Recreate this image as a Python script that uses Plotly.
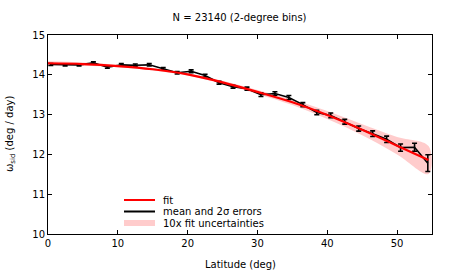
import plotly.graph_objects as go

# Binned means (latitude, deg / day) and 2-sigma errors
lat = [0.4, 2.45, 4.45, 6.5, 8.5, 10.5, 12.5, 14.5, 16.5, 18.5, 20.5, 22.5, 24.5, 26.5,
       28.5, 30.5, 32.5, 34.5, 36.5, 38.5, 40.5, 42.5, 44.5, 46.5, 48.5, 50.5, 52.5, 54.4]
omega = [14.26, 14.25, 14.25, 14.30, 14.19, 14.25, 14.24, 14.25, 14.15, 14.05, 14.09, 13.98,
         13.80, 13.70, 13.65, 13.50, 13.53, 13.43, 13.25, 13.05, 12.98, 12.82, 12.65, 12.52,
         12.38, 12.17, 12.18, 11.78]
err2s = [0.025, 0.025, 0.025, 0.025, 0.025, 0.03, 0.03, 0.03, 0.03, 0.03, 0.035, 0.035,
         0.035, 0.035, 0.04, 0.045, 0.045, 0.05, 0.05, 0.055, 0.06, 0.06, 0.065, 0.07,
         0.08, 0.09, 0.10, 0.21]

# Fit curve, read at sample latitudes
fit_lat = [0, 5, 10, 15, 20, 25, 30, 35, 40, 45, 50, 54.5]
fit_val = [14.29, 14.27, 14.22, 14.14, 14.01, 13.81, 13.57, 13.31, 12.99, 12.62, 12.22, 11.86]
fit_unc10 = [0.05, 0.04, 0.03, 0.03, 0.03, 0.04, 0.05, 0.07, 0.10, 0.14, 0.22, 0.35]

legend_labels = ["fit", "mean and 2σ errors", "10x fit uncertainties"]

font = "DejaVu Sans"
FS = 10
W, H = 452, 271
L, R, T, B = 48, 20, 35, 37
pw, ph = W - L - R, H - T - B


def px(xp):
    return (xp - L) / pw


def py(yp):
    return (H - B - yp) / ph


band_x = fit_lat + fit_lat[::-1]
band_y = [v + u for v, u in zip(fit_val, fit_unc10)] + \
         [v - u for v, u in zip(fit_val[::-1], fit_unc10[::-1])]

fig = go.Figure()
fig.add_trace(go.Scatter(x=band_x, y=band_y, fill="toself", mode="lines",
                         line=dict(width=0, color="rgba(255,0,0,0)", shape="spline"),
                         fillcolor="rgba(255,0,0,0.2)", name=legend_labels[2],
                         hoverinfo="skip"))
fig.add_trace(go.Scatter(x=lat, y=omega, mode="lines", name=legend_labels[1],
                         line=dict(color="black", width=1.6),
                         error_y=dict(type="data", array=err2s, visible=True,
                                      color="black", thickness=1.6, width=2.5)))
fig.add_trace(go.Scatter(x=fit_lat, y=fit_val, mode="lines", name=legend_labels[0],
                         line=dict(color="red", width=2.2, shape="spline")))

axis_common = dict(showgrid=False, zeroline=False, showline=True, linecolor="black",
                   linewidth=1, mirror="allticks", ticks="inside", ticklen=4,
                   tickcolor="black", automargin=False,
                   tickfont=dict(family=font, size=FS, color="black"))

# Manual legend
rows = [200, 211.5, 223]
shapes = [
    dict(type="line", xref="paper", yref="paper", x0=px(124), x1=px(155),
         y0=py(rows[0]), y1=py(rows[0]), line=dict(color="red", width=2)),
    dict(type="line", xref="paper", yref="paper", x0=px(124), x1=px(155),
         y0=py(rows[1]), y1=py(rows[1]), line=dict(color="black", width=2)),
    dict(type="rect", xref="paper", yref="paper", x0=px(124), x1=px(155),
         y0=py(rows[2] + 3), y1=py(rows[2] - 3), line=dict(width=0),
         fillcolor="rgba(255,0,0,0.2)"),
]
annotations = [
    dict(text=t, xref="paper", yref="paper", x=px(161), y=py(r), xanchor="left",
         yanchor="middle", showarrow=False, font=dict(family=font, size=FS, color="black"))
    for t, r in zip(legend_labels, rows)
]
annotations += [
    dict(text="Latitude (deg)", xref="paper", yref="paper", x=px(240), y=py(264),
         xanchor="center", yanchor="middle", showarrow=False,
         font=dict(family=font, size=FS, color="black")),
    dict(text="ω<sub>sid</sub> (deg / day)", xref="paper", yref="paper", x=px(10),
         y=py(134), xanchor="center", yanchor="middle", textangle=-90, showarrow=False,
         font=dict(family=font, size=FS, color="black")),
]

fig.update_layout(
    width=W, height=H,
    margin=dict(l=L, r=R, t=T, b=B),
    paper_bgcolor="white", plot_bgcolor="white",
    font=dict(family=font, size=FS, color="black"),
    title=dict(text="N = 23140 (2-degree bins)", x=0.53, xanchor="center",
               y=0.935, yanchor="middle", font=dict(family=font, size=FS, color="black")),
    xaxis=dict(range=[0, 55], tickvals=[0, 10, 20, 30, 40, 50], **axis_common),
    yaxis=dict(range=[10, 15], tickvals=[10, 11, 12, 13, 14, 15], **axis_common),
    showlegend=False,
    shapes=shapes,
    annotations=annotations,
)

fig.write_html("out.html", config={"displayModeBar": False},
               post_script="document.body.style.margin='0';document.body.style.overflow='hidden';")
